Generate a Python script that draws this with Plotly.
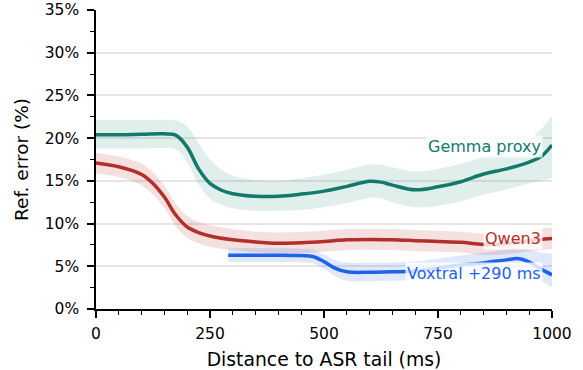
import plotly.graph_objects as go

# ---- data ----
gemma_x = [0, 50, 100, 150, 175, 200, 225, 250, 275, 300, 350, 400, 450, 500, 550, 600, 625, 650, 700, 750, 800, 850, 900, 950, 975, 1000]
gemma_y = [20.4, 20.4, 20.45, 20.5, 20.35, 18.95, 16.4, 14.7, 13.9, 13.5, 13.2, 13.2, 13.45, 13.8, 14.35, 14.95, 14.85, 14.5, 13.95, 14.3, 14.9, 15.8, 16.4, 17.2, 17.8, 19.2]
gemma_hi = [22.1, 22.1, 22.1, 22.15, 22.1, 21.4, 19.4, 17.5, 16.3, 15.6, 15.1, 15.0, 15.3, 15.75, 16.3, 16.9, 16.9, 16.6, 16.1, 16.4, 17.0, 17.8, 18.6, 19.9, 21.0, 22.6]
gemma_lo = [18.8, 18.8, 18.8, 18.85, 18.7, 17.2, 14.6, 12.9, 12.2, 11.8, 11.5, 11.5, 11.6, 11.9, 12.4, 13.0, 13.0, 12.5, 11.9, 12.1, 12.6, 13.4, 14.0, 14.7, 15.0, 15.3]

qwen_x = [0, 50, 100, 125, 150, 175, 200, 225, 250, 300, 350, 400, 450, 500, 550, 600, 650, 700, 750, 800, 850, 900, 950, 1000]
qwen_y = [17.1, 16.65, 15.75, 14.7, 13.1, 11.0, 9.6, 8.95, 8.55, 8.1, 7.85, 7.7, 7.75, 7.9, 8.1, 8.15, 8.1, 8.0, 7.9, 7.8, 7.55, 7.65, 8.0, 8.25]
qwen_hi = [18.3, 17.85, 17.0, 16.0, 14.4, 12.3, 10.9, 10.2, 9.8, 9.35, 9.05, 8.95, 9.0, 9.15, 9.35, 9.4, 9.35, 9.25, 9.15, 9.05, 8.85, 8.95, 9.3, 9.5]
qwen_lo = [15.9, 15.45, 14.5, 13.4, 11.8, 9.7, 8.3, 7.7, 7.3, 6.9, 6.65, 6.5, 6.55, 6.7, 6.9, 6.95, 6.9, 6.8, 6.7, 6.6, 6.3, 6.4, 6.75, 7.0]

voxtral_x = [290, 350, 400, 450, 475, 500, 525, 550, 600, 650, 700, 750, 800, 850, 900, 925, 950, 975, 1000]
voxtral_y = [6.3, 6.3, 6.3, 6.25, 6.15, 5.55, 4.75, 4.35, 4.3, 4.35, 4.45, 4.8, 5.15, 5.4, 5.75, 5.9, 5.5, 4.7, 4.0]
voxtral_hi = [7.1, 7.1, 7.1, 7.05, 6.95, 6.4, 5.7, 5.45, 5.4, 5.45, 5.55, 5.9, 6.25, 6.6, 6.95, 7.1, 6.9, 6.6, 6.5]
voxtral_lo = [5.5, 5.5, 5.5, 5.45, 5.35, 4.7, 3.8, 3.3, 3.25, 3.3, 3.4, 3.6, 3.95, 4.3, 4.55, 4.6, 4.1, 3.3, 2.6]

x_ticks = [0, 250, 500, 750, 1000]
y_ticks = [0, 5, 10, 15, 20, 25, 30, 35]

series = [
    ("Gemma proxy", gemma_x, gemma_y, gemma_hi, gemma_lo, (19, 122, 107), 19.03, 0.13),
    ("Qwen3", qwen_x, qwen_y, qwen_hi, qwen_lo, (178, 47, 43), 8.22, 0.15),
    ("Voxtral +290 ms", voxtral_x, voxtral_y, voxtral_hi, voxtral_lo, (32, 98, 232), 4.11, 0.14),
]

FONT = "DejaVu Sans"
fig = go.Figure()

for name, xs, ys, hi, lo, (r, g, b), ly, alpha in series:
    fig.add_trace(go.Scatter(x=xs, y=hi, mode="lines", line=dict(width=0, shape="spline", smoothing=1),
                             showlegend=False, hoverinfo="skip"))
    fig.add_trace(go.Scatter(x=xs, y=lo, mode="lines", line=dict(width=0, shape="spline", smoothing=1),
                             fill="tonexty", fillcolor=f"rgba({r},{g},{b},{alpha})",
                             showlegend=False, hoverinfo="skip"))

for name, xs, ys, hi, lo, (r, g, b), ly, alpha in series:
    fig.add_trace(go.Scatter(x=xs, y=ys, mode="lines", name=name,
                             line=dict(width=3.5, color=f"rgb({r},{g},{b})", shape="spline", smoothing=1),
                             showlegend=False))
    fig.add_annotation(x=980, y=ly, xref="x", yref="y", text=name, showarrow=False,
                       xanchor="right", yanchor="middle",
                       font=dict(family=FONT, size=16, color=f"rgb({r},{g},{b})"),
                       bgcolor="rgba(255,255,255,0.8)", borderpad=1)

fig.update_layout(
    width=583, height=370,
    margin=dict(l=96, r=31, t=10, b=61, autoexpand=False),
    paper_bgcolor="white", plot_bgcolor="white",
    font=dict(family=FONT, size=15.5, color="black"),
    showlegend=False,
)
fig.update_xaxes(
    automargin=False,
    range=[0, 1000], tickvals=x_ticks, ticktext=[str(v) for v in x_ticks],
    showline=True, linecolor="black", linewidth=1.5,
    ticks="outside", ticklen=7, tickwidth=1.5, tickcolor="black",
    minor=dict(dtick=50, ticks="outside", ticklen=4, tickwidth=1.2, tickcolor="black", showgrid=False),
    showgrid=False, zeroline=False, ticklabelstandoff=3,
    title=dict(text="Distance to ASR tail (ms)", font=dict(family=FONT, size=18.8), standoff=10),
    tickfont=dict(family=FONT, size=15.5),
)
fig.update_yaxes(
    automargin=False,
    range=[0, 35], tickvals=y_ticks, ticktext=[f"{v}%" for v in y_ticks],
    showline=True, linecolor="black", linewidth=1.5,
    ticks="outside", ticklen=7, tickwidth=1.5, tickcolor="black",
    minor=dict(dtick=2.5, ticks="outside", ticklen=4, tickwidth=1.2, tickcolor="black", showgrid=False),
    showgrid=True, gridcolor="#e6e6e6", gridwidth=1.5, zeroline=False, ticklabelstandoff=5,
    title=dict(text="Ref. error (%)", font=dict(family=FONT, size=18.5), standoff=11),
    tickfont=dict(family=FONT, size=15.5),
)

fig.write_html("out.html", post_script="document.body.style.margin='0';",
               config={"displayModeBar": False})
